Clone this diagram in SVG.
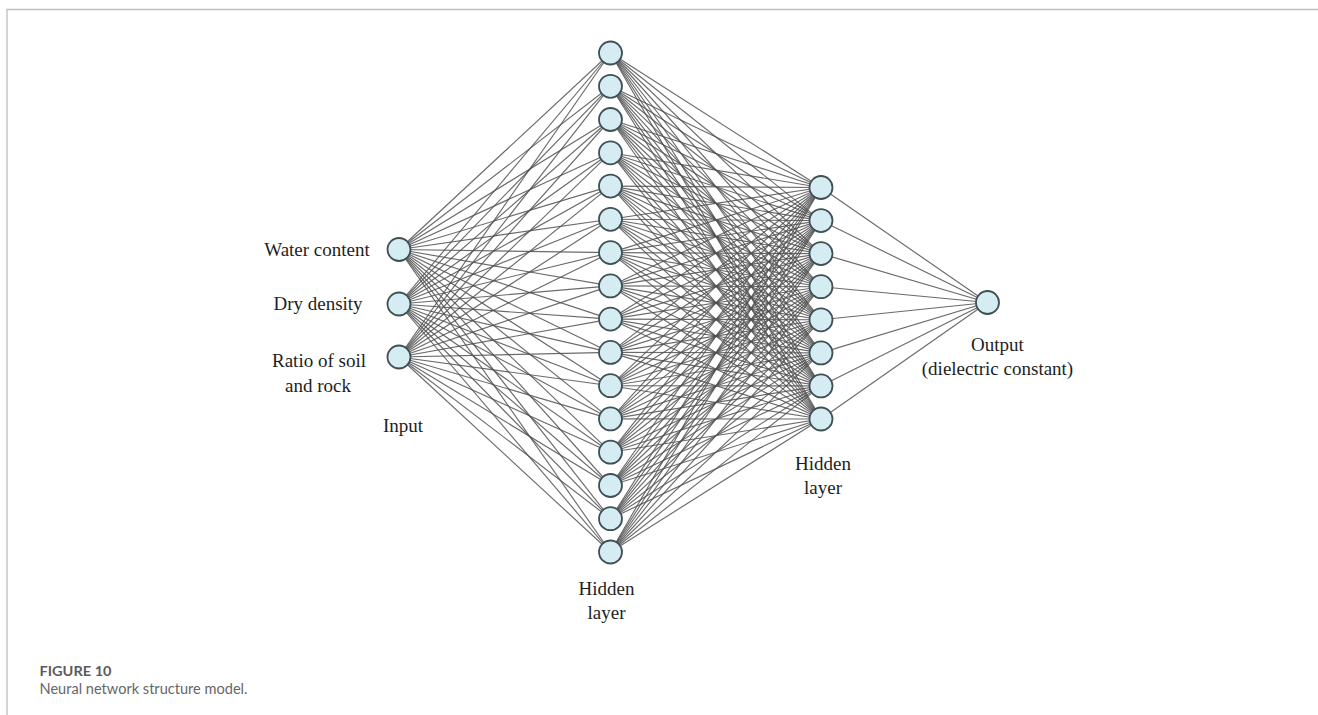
<svg xmlns="http://www.w3.org/2000/svg" width="1318" height="715" viewBox="0 0 1318 715">
<style>
.frame{stroke:#bdbdbd;stroke-width:1.3;fill:none}
.c line{stroke:#505050;stroke-width:1.15;stroke-opacity:.85}
.n{fill:#d5ecf3;stroke:#3f5055;stroke-width:1.8}
.lb{font-family:"Liberation Serif","Times New Roman",serif;font-size:19px;fill:#1e1e1e;text-anchor:middle}
.cap1{font-family:Lato,"Open Sans","Liberation Sans",sans-serif;font-size:13.5px;font-weight:700;fill:#5a5a5a}
.cap2{font-family:Lato,"Open Sans","Liberation Sans",sans-serif;font-size:15.5px;fill:#666}
</style>
<rect width="1318" height="715" fill="#fff"/>
<path class="frame" d="M1318 9.5H7V715"/>
<g id="connectors" class="c">
<line x1="399" y1="249.5" x2="610.5" y2="53"/><line x1="399" y1="249.5" x2="610.5" y2="86.3"/><line x1="399" y1="249.5" x2="610.5" y2="119.5"/><line x1="399" y1="249.5" x2="610.5" y2="152.8"/><line x1="399" y1="249.5" x2="610.5" y2="186.1"/><line x1="399" y1="249.5" x2="610.5" y2="219.3"/><line x1="399" y1="249.5" x2="610.5" y2="252.6"/><line x1="399" y1="249.5" x2="610.5" y2="285.9"/><line x1="399" y1="249.5" x2="610.5" y2="319.1"/><line x1="399" y1="249.5" x2="610.5" y2="352.4"/><line x1="399" y1="249.5" x2="610.5" y2="385.7"/><line x1="399" y1="249.5" x2="610.5" y2="418.9"/><line x1="399" y1="249.5" x2="610.5" y2="452.2"/><line x1="399" y1="249.5" x2="610.5" y2="485.5"/><line x1="399" y1="249.5" x2="610.5" y2="518.7"/><line x1="399" y1="249.5" x2="610.5" y2="552"/>
<line x1="399" y1="304" x2="610.5" y2="53"/><line x1="399" y1="304" x2="610.5" y2="86.3"/><line x1="399" y1="304" x2="610.5" y2="119.5"/><line x1="399" y1="304" x2="610.5" y2="152.8"/><line x1="399" y1="304" x2="610.5" y2="186.1"/><line x1="399" y1="304" x2="610.5" y2="219.3"/><line x1="399" y1="304" x2="610.5" y2="252.6"/><line x1="399" y1="304" x2="610.5" y2="285.9"/><line x1="399" y1="304" x2="610.5" y2="319.1"/><line x1="399" y1="304" x2="610.5" y2="352.4"/><line x1="399" y1="304" x2="610.5" y2="385.7"/><line x1="399" y1="304" x2="610.5" y2="418.9"/><line x1="399" y1="304" x2="610.5" y2="452.2"/><line x1="399" y1="304" x2="610.5" y2="485.5"/><line x1="399" y1="304" x2="610.5" y2="518.7"/><line x1="399" y1="304" x2="610.5" y2="552"/>
<line x1="399" y1="357" x2="610.5" y2="53"/><line x1="399" y1="357" x2="610.5" y2="86.3"/><line x1="399" y1="357" x2="610.5" y2="119.5"/><line x1="399" y1="357" x2="610.5" y2="152.8"/><line x1="399" y1="357" x2="610.5" y2="186.1"/><line x1="399" y1="357" x2="610.5" y2="219.3"/><line x1="399" y1="357" x2="610.5" y2="252.6"/><line x1="399" y1="357" x2="610.5" y2="285.9"/><line x1="399" y1="357" x2="610.5" y2="319.1"/><line x1="399" y1="357" x2="610.5" y2="352.4"/><line x1="399" y1="357" x2="610.5" y2="385.7"/><line x1="399" y1="357" x2="610.5" y2="418.9"/><line x1="399" y1="357" x2="610.5" y2="452.2"/><line x1="399" y1="357" x2="610.5" y2="485.5"/><line x1="399" y1="357" x2="610.5" y2="518.7"/><line x1="399" y1="357" x2="610.5" y2="552"/>
<line x1="610.5" y1="53" x2="821" y2="187.5"/><line x1="610.5" y1="53" x2="821" y2="220.6"/><line x1="610.5" y1="53" x2="821" y2="253.6"/><line x1="610.5" y1="53" x2="821" y2="286.7"/><line x1="610.5" y1="53" x2="821" y2="319.8"/><line x1="610.5" y1="53" x2="821" y2="352.9"/><line x1="610.5" y1="53" x2="821" y2="385.9"/><line x1="610.5" y1="53" x2="821" y2="419"/>
<line x1="610.5" y1="86.3" x2="821" y2="187.5"/><line x1="610.5" y1="86.3" x2="821" y2="220.6"/><line x1="610.5" y1="86.3" x2="821" y2="253.6"/><line x1="610.5" y1="86.3" x2="821" y2="286.7"/><line x1="610.5" y1="86.3" x2="821" y2="319.8"/><line x1="610.5" y1="86.3" x2="821" y2="352.9"/><line x1="610.5" y1="86.3" x2="821" y2="385.9"/><line x1="610.5" y1="86.3" x2="821" y2="419"/>
<line x1="610.5" y1="119.5" x2="821" y2="187.5"/><line x1="610.5" y1="119.5" x2="821" y2="220.6"/><line x1="610.5" y1="119.5" x2="821" y2="253.6"/><line x1="610.5" y1="119.5" x2="821" y2="286.7"/><line x1="610.5" y1="119.5" x2="821" y2="319.8"/><line x1="610.5" y1="119.5" x2="821" y2="352.9"/><line x1="610.5" y1="119.5" x2="821" y2="385.9"/><line x1="610.5" y1="119.5" x2="821" y2="419"/>
<line x1="610.5" y1="152.8" x2="821" y2="187.5"/><line x1="610.5" y1="152.8" x2="821" y2="220.6"/><line x1="610.5" y1="152.8" x2="821" y2="253.6"/><line x1="610.5" y1="152.8" x2="821" y2="286.7"/><line x1="610.5" y1="152.8" x2="821" y2="319.8"/><line x1="610.5" y1="152.8" x2="821" y2="352.9"/><line x1="610.5" y1="152.8" x2="821" y2="385.9"/><line x1="610.5" y1="152.8" x2="821" y2="419"/>
<line x1="610.5" y1="186.1" x2="821" y2="187.5"/><line x1="610.5" y1="186.1" x2="821" y2="220.6"/><line x1="610.5" y1="186.1" x2="821" y2="253.6"/><line x1="610.5" y1="186.1" x2="821" y2="286.7"/><line x1="610.5" y1="186.1" x2="821" y2="319.8"/><line x1="610.5" y1="186.1" x2="821" y2="352.9"/><line x1="610.5" y1="186.1" x2="821" y2="385.9"/><line x1="610.5" y1="186.1" x2="821" y2="419"/>
<line x1="610.5" y1="219.3" x2="821" y2="187.5"/><line x1="610.5" y1="219.3" x2="821" y2="220.6"/><line x1="610.5" y1="219.3" x2="821" y2="253.6"/><line x1="610.5" y1="219.3" x2="821" y2="286.7"/><line x1="610.5" y1="219.3" x2="821" y2="319.8"/><line x1="610.5" y1="219.3" x2="821" y2="352.9"/><line x1="610.5" y1="219.3" x2="821" y2="385.9"/><line x1="610.5" y1="219.3" x2="821" y2="419"/>
<line x1="610.5" y1="252.6" x2="821" y2="187.5"/><line x1="610.5" y1="252.6" x2="821" y2="220.6"/><line x1="610.5" y1="252.6" x2="821" y2="253.6"/><line x1="610.5" y1="252.6" x2="821" y2="286.7"/><line x1="610.5" y1="252.6" x2="821" y2="319.8"/><line x1="610.5" y1="252.6" x2="821" y2="352.9"/><line x1="610.5" y1="252.6" x2="821" y2="385.9"/><line x1="610.5" y1="252.6" x2="821" y2="419"/>
<line x1="610.5" y1="285.9" x2="821" y2="187.5"/><line x1="610.5" y1="285.9" x2="821" y2="220.6"/><line x1="610.5" y1="285.9" x2="821" y2="253.6"/><line x1="610.5" y1="285.9" x2="821" y2="286.7"/><line x1="610.5" y1="285.9" x2="821" y2="319.8"/><line x1="610.5" y1="285.9" x2="821" y2="352.9"/><line x1="610.5" y1="285.9" x2="821" y2="385.9"/><line x1="610.5" y1="285.9" x2="821" y2="419"/>
<line x1="610.5" y1="319.1" x2="821" y2="187.5"/><line x1="610.5" y1="319.1" x2="821" y2="220.6"/><line x1="610.5" y1="319.1" x2="821" y2="253.6"/><line x1="610.5" y1="319.1" x2="821" y2="286.7"/><line x1="610.5" y1="319.1" x2="821" y2="319.8"/><line x1="610.5" y1="319.1" x2="821" y2="352.9"/><line x1="610.5" y1="319.1" x2="821" y2="385.9"/><line x1="610.5" y1="319.1" x2="821" y2="419"/>
<line x1="610.5" y1="352.4" x2="821" y2="187.5"/><line x1="610.5" y1="352.4" x2="821" y2="220.6"/><line x1="610.5" y1="352.4" x2="821" y2="253.6"/><line x1="610.5" y1="352.4" x2="821" y2="286.7"/><line x1="610.5" y1="352.4" x2="821" y2="319.8"/><line x1="610.5" y1="352.4" x2="821" y2="352.9"/><line x1="610.5" y1="352.4" x2="821" y2="385.9"/><line x1="610.5" y1="352.4" x2="821" y2="419"/>
<line x1="610.5" y1="385.7" x2="821" y2="187.5"/><line x1="610.5" y1="385.7" x2="821" y2="220.6"/><line x1="610.5" y1="385.7" x2="821" y2="253.6"/><line x1="610.5" y1="385.7" x2="821" y2="286.7"/><line x1="610.5" y1="385.7" x2="821" y2="319.8"/><line x1="610.5" y1="385.7" x2="821" y2="352.9"/><line x1="610.5" y1="385.7" x2="821" y2="385.9"/><line x1="610.5" y1="385.7" x2="821" y2="419"/>
<line x1="610.5" y1="418.9" x2="821" y2="187.5"/><line x1="610.5" y1="418.9" x2="821" y2="220.6"/><line x1="610.5" y1="418.9" x2="821" y2="253.6"/><line x1="610.5" y1="418.9" x2="821" y2="286.7"/><line x1="610.5" y1="418.9" x2="821" y2="319.8"/><line x1="610.5" y1="418.9" x2="821" y2="352.9"/><line x1="610.5" y1="418.9" x2="821" y2="385.9"/><line x1="610.5" y1="418.9" x2="821" y2="419"/>
<line x1="610.5" y1="452.2" x2="821" y2="187.5"/><line x1="610.5" y1="452.2" x2="821" y2="220.6"/><line x1="610.5" y1="452.2" x2="821" y2="253.6"/><line x1="610.5" y1="452.2" x2="821" y2="286.7"/><line x1="610.5" y1="452.2" x2="821" y2="319.8"/><line x1="610.5" y1="452.2" x2="821" y2="352.9"/><line x1="610.5" y1="452.2" x2="821" y2="385.9"/><line x1="610.5" y1="452.2" x2="821" y2="419"/>
<line x1="610.5" y1="485.5" x2="821" y2="187.5"/><line x1="610.5" y1="485.5" x2="821" y2="220.6"/><line x1="610.5" y1="485.5" x2="821" y2="253.6"/><line x1="610.5" y1="485.5" x2="821" y2="286.7"/><line x1="610.5" y1="485.5" x2="821" y2="319.8"/><line x1="610.5" y1="485.5" x2="821" y2="352.9"/><line x1="610.5" y1="485.5" x2="821" y2="385.9"/><line x1="610.5" y1="485.5" x2="821" y2="419"/>
<line x1="610.5" y1="518.7" x2="821" y2="187.5"/><line x1="610.5" y1="518.7" x2="821" y2="220.6"/><line x1="610.5" y1="518.7" x2="821" y2="253.6"/><line x1="610.5" y1="518.7" x2="821" y2="286.7"/><line x1="610.5" y1="518.7" x2="821" y2="319.8"/><line x1="610.5" y1="518.7" x2="821" y2="352.9"/><line x1="610.5" y1="518.7" x2="821" y2="385.9"/><line x1="610.5" y1="518.7" x2="821" y2="419"/>
<line x1="610.5" y1="552" x2="821" y2="187.5"/><line x1="610.5" y1="552" x2="821" y2="220.6"/><line x1="610.5" y1="552" x2="821" y2="253.6"/><line x1="610.5" y1="552" x2="821" y2="286.7"/><line x1="610.5" y1="552" x2="821" y2="319.8"/><line x1="610.5" y1="552" x2="821" y2="352.9"/><line x1="610.5" y1="552" x2="821" y2="385.9"/><line x1="610.5" y1="552" x2="821" y2="419"/>
<line x1="821" y1="187.5" x2="987.5" y2="302.5"/><line x1="821" y1="220.6" x2="987.5" y2="302.5"/><line x1="821" y1="253.6" x2="987.5" y2="302.5"/><line x1="821" y1="286.7" x2="987.5" y2="302.5"/><line x1="821" y1="319.8" x2="987.5" y2="302.5"/><line x1="821" y1="352.9" x2="987.5" y2="302.5"/><line x1="821" y1="385.9" x2="987.5" y2="302.5"/><line x1="821" y1="419" x2="987.5" y2="302.5"/>
</g>
<g id="input-water-content"><circle class="n" cx="399" cy="249.5" r="11.5"/><text class="lb" x="317" y="255.5">Water content</text></g>
<g id="input-dry-density"><circle class="n" cx="399" cy="304" r="11.5"/><text class="lb" x="318" y="309.5">Dry density</text></g>
<g id="input-ratio"><circle class="n" cx="399" cy="357" r="11.5"/><text class="lb" x="319" y="366.5">Ratio of soil</text><text class="lb" x="318" y="391.5">and rock</text></g>
<g id="label-input"><text class="lb" x="403" y="431.5">Input</text></g>
<g id="h1-1"><circle class="n" cx="610.5" cy="53" r="11.5"/></g>
<g id="h1-2"><circle class="n" cx="610.5" cy="86.3" r="11.5"/></g>
<g id="h1-3"><circle class="n" cx="610.5" cy="119.5" r="11.5"/></g>
<g id="h1-4"><circle class="n" cx="610.5" cy="152.8" r="11.5"/></g>
<g id="h1-5"><circle class="n" cx="610.5" cy="186.1" r="11.5"/></g>
<g id="h1-6"><circle class="n" cx="610.5" cy="219.3" r="11.5"/></g>
<g id="h1-7"><circle class="n" cx="610.5" cy="252.6" r="11.5"/></g>
<g id="h1-8"><circle class="n" cx="610.5" cy="285.9" r="11.5"/></g>
<g id="h1-9"><circle class="n" cx="610.5" cy="319.1" r="11.5"/></g>
<g id="h1-10"><circle class="n" cx="610.5" cy="352.4" r="11.5"/></g>
<g id="h1-11"><circle class="n" cx="610.5" cy="385.7" r="11.5"/></g>
<g id="h1-12"><circle class="n" cx="610.5" cy="418.9" r="11.5"/></g>
<g id="h1-13"><circle class="n" cx="610.5" cy="452.2" r="11.5"/></g>
<g id="h1-14"><circle class="n" cx="610.5" cy="485.5" r="11.5"/></g>
<g id="h1-15"><circle class="n" cx="610.5" cy="518.7" r="11.5"/></g>
<g id="h1-16"><circle class="n" cx="610.5" cy="552" r="11.5"/></g>
<g id="label-hidden-1"><text class="lb" x="606.5" y="595">Hidden</text><text class="lb" x="606.5" y="619">layer</text></g>
<g id="h2-1"><circle class="n" cx="821" cy="187.5" r="11.5"/></g>
<g id="h2-2"><circle class="n" cx="821" cy="220.6" r="11.5"/></g>
<g id="h2-3"><circle class="n" cx="821" cy="253.6" r="11.5"/></g>
<g id="h2-4"><circle class="n" cx="821" cy="286.7" r="11.5"/></g>
<g id="h2-5"><circle class="n" cx="821" cy="319.8" r="11.5"/></g>
<g id="h2-6"><circle class="n" cx="821" cy="352.9" r="11.5"/></g>
<g id="h2-7"><circle class="n" cx="821" cy="385.9" r="11.5"/></g>
<g id="h2-8"><circle class="n" cx="821" cy="419" r="11.5"/></g>
<g id="label-hidden-2"><text class="lb" x="823" y="470">Hidden</text><text class="lb" x="823" y="494">layer</text></g>
<g id="output"><circle class="n" cx="987.5" cy="302.5" r="11.5"/><text class="lb" x="997.5" y="351">Output</text><text class="lb" x="997.5" y="375">(dielectric constant)</text></g>
<g id="caption"><text class="cap1" x="39.5" y="676" textLength="72" lengthAdjust="spacingAndGlyphs">FIGURE 10</text><text class="cap2" x="39.5" y="694" textLength="208" lengthAdjust="spacingAndGlyphs">Neural network structure model.</text></g>
</svg>
